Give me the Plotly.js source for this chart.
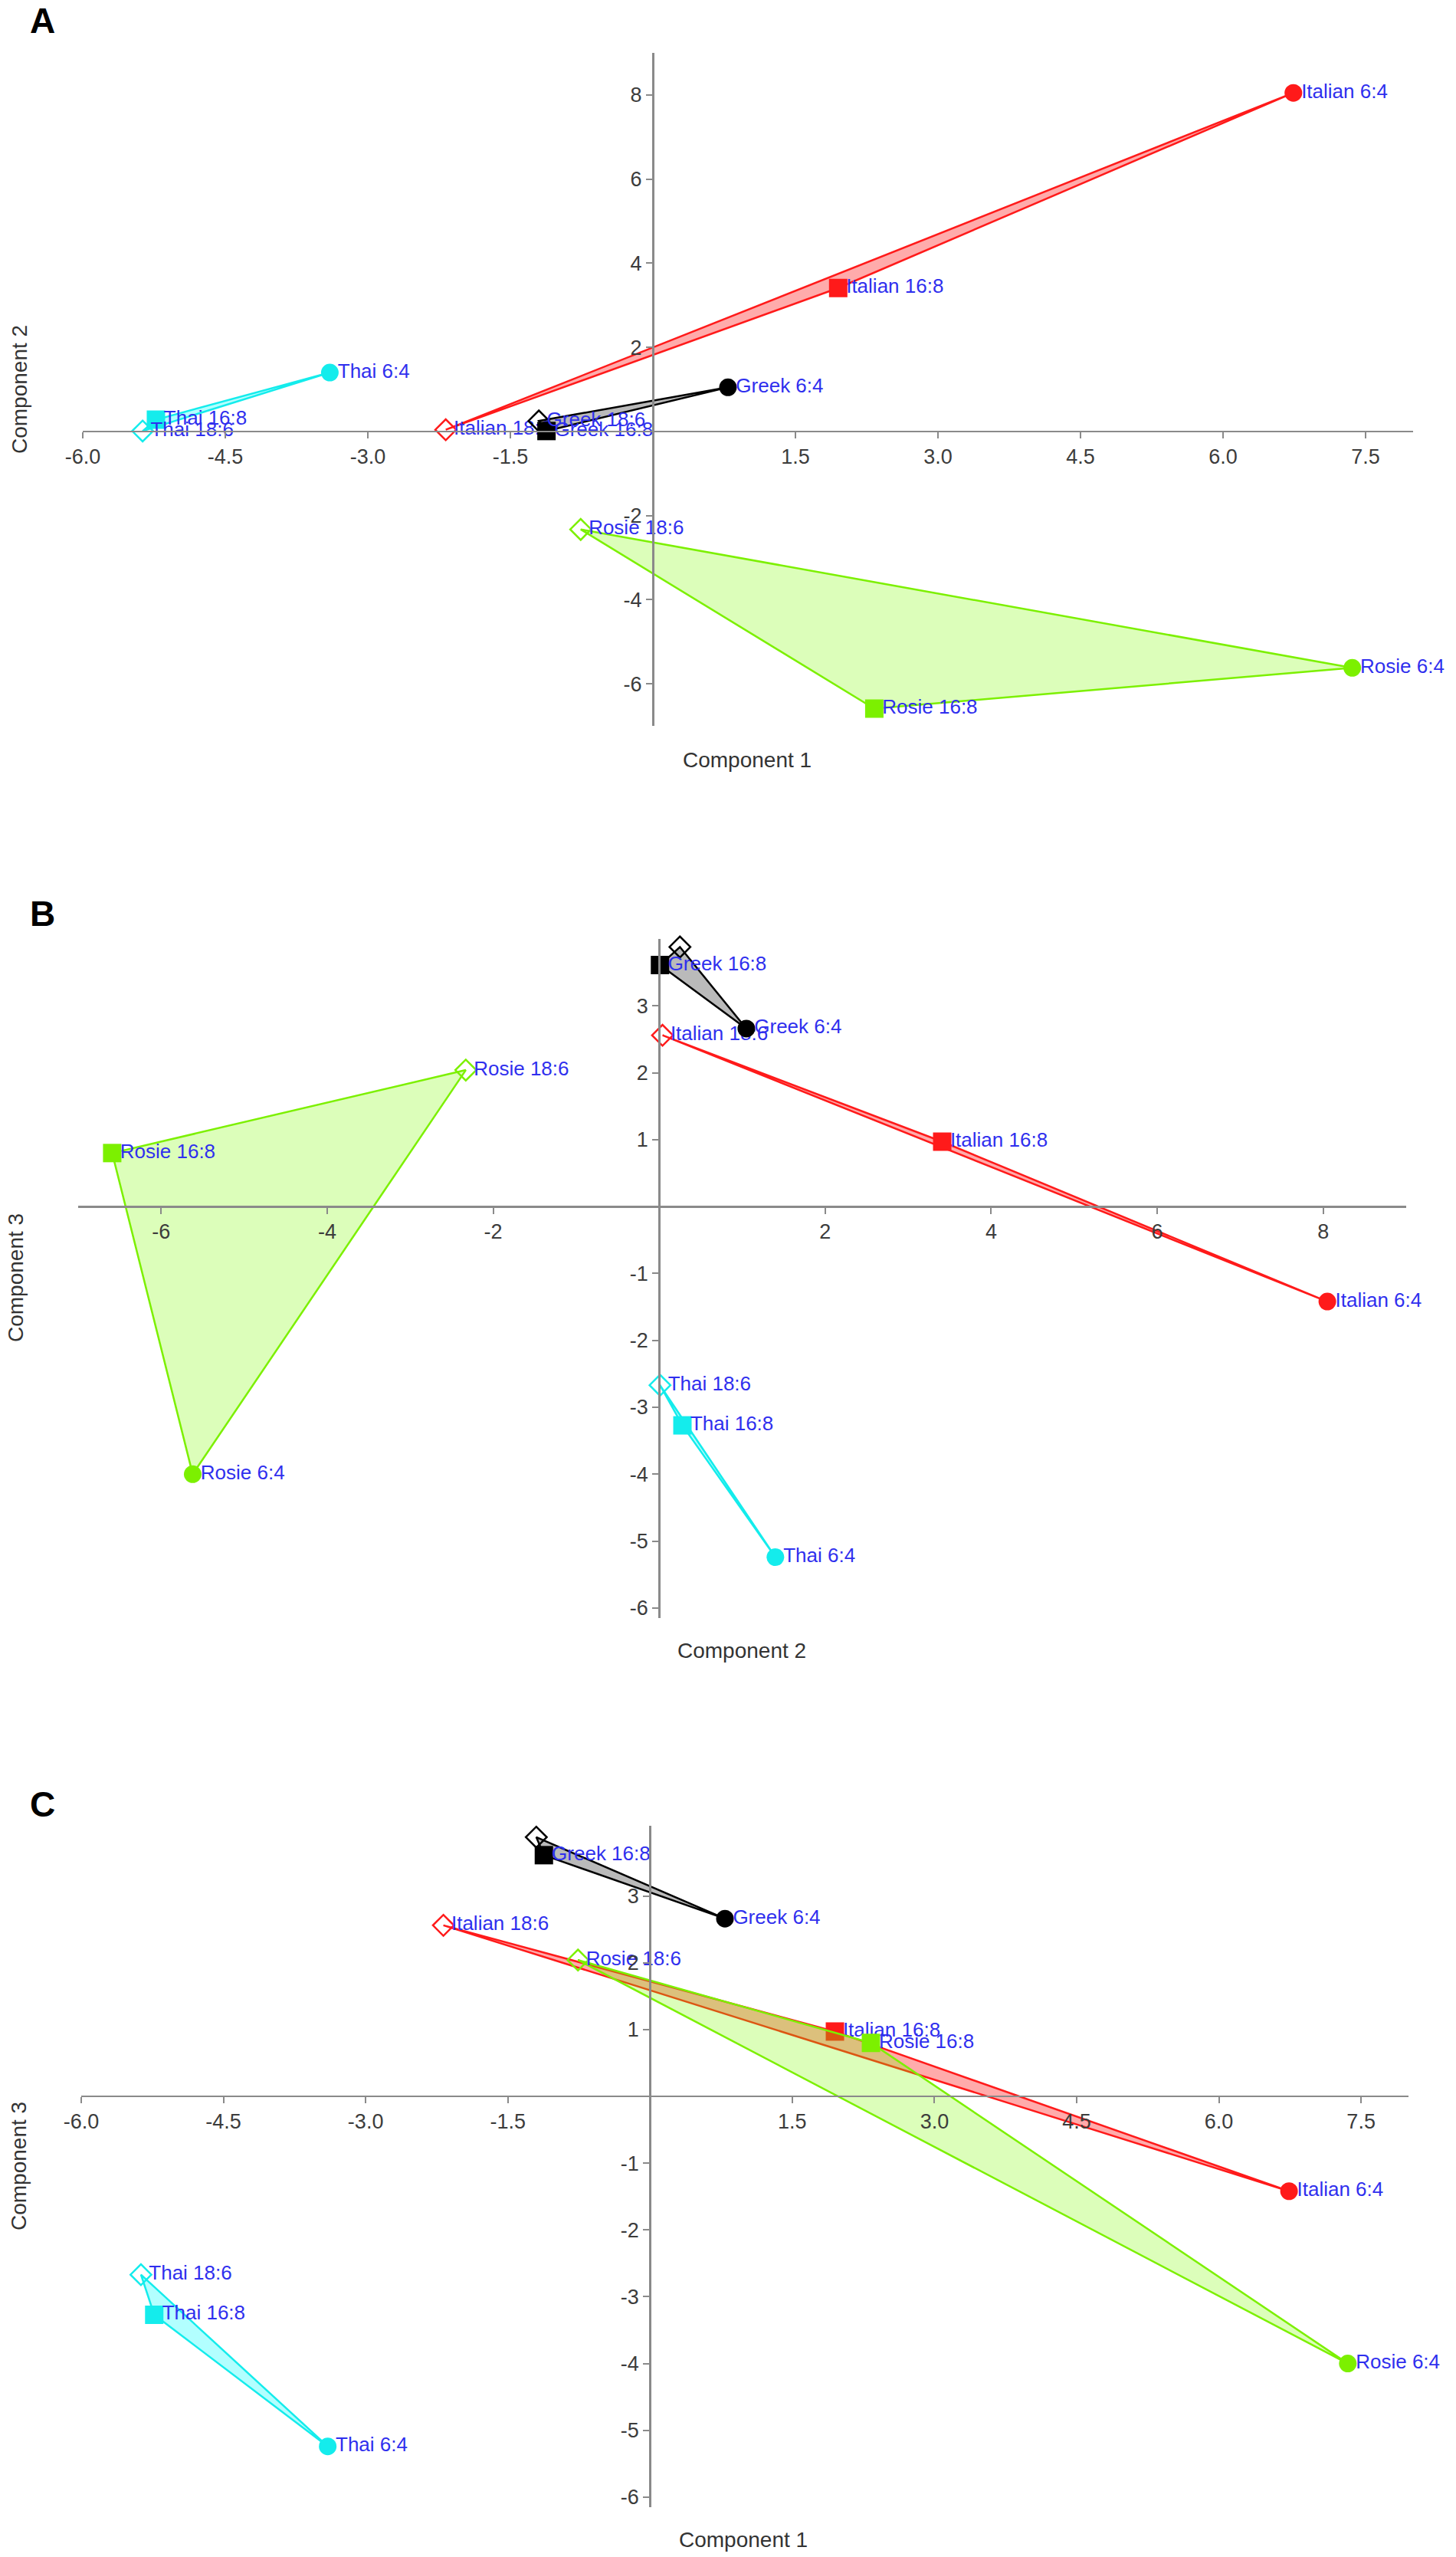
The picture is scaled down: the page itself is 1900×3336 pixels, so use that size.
<!DOCTYPE html>
<html>
<head>
<meta charset="utf-8">
<script src="https://cdn.plot.ly/plotly-3.0.1.min.js"></script>
<style>
  html, body { margin: 0; padding: 0; background: #ffffff; }
  #chart { width: 1900px; height: 3336px; }
</style>
</head>
<body>
<div id="chart"></div>
<script>
// ---------------- DATA ----------------
const groups = ["Italian", "Greek", "Rosie", "Thai"];
const photoperiods = ["6:4", "16:8", "18:6"];

// component scores, order: 6:4, 16:8, 18:6 for each group
const italianC1 = [6.74, 1.95, -2.18];
const italianC2 = [8.05, 3.41, 0.04];
const italianC3 = [-1.42, 0.97, 2.56];

const greekC1 = [0.79, -1.12, -1.20];
const greekC2 = [1.05, 0.01, 0.25];
const greekC3 = [2.66, 3.61, 3.88];

const rosieC1 = [7.36, 2.33, -0.76];
const rosieC2 = [-5.62, -6.59, -2.33];
const rosieC3 = [-4.00, 0.80, 2.04];

const thaiC1 = [-3.40, -5.23, -5.37];
const thaiC2 = [1.40, 0.28, 0.01];
const thaiC3 = [-5.24, -3.27, -2.67];

// tick values / labels
const comp1TickVals = [-6, -4.5, -3, -1.5, 1.5, 3, 4.5, 6, 7.5];
const comp1TickText = ["-6.0", "-4.5", "-3.0", "-1.5", "1.5", "3.0", "4.5", "6.0", "7.5"];
const comp2TickValsA = [-6, -4, -2, 2, 4, 6, 8];
const comp2TickValsB = [-6, -4, -2, 2, 4, 6, 8];
const comp3TickVals = [-6, -5, -4, -3, -2, -1, 1, 2, 3];

// labels hidden in the original (overlapping) for panels B and C
const hiddenLabels = { A: [], B: ["Greek 18:6"], C: ["Greek 18:6"] };

// ---------------- STYLE ----------------
const W = 1900, H = 3336;
const FONT = "Liberation Sans, Arial, Helvetica, sans-serif";
const groupStyle = {
  Italian: { line: "#ff1a1a", fill: "rgba(255,0,0,0.33)" },
  Greek:   { line: "#000000", fill: "rgba(0,0,0,0.27)" },
  Rosie:   { line: "#7cf000", fill: "rgba(124,252,0,0.27)" },
  Thai:    { line: "#14ecec", fill: "rgba(0,255,255,0.30)" }
};
const symbols = ["circle", "square", "diamond-open"];
const symSizes = [23, 24, 21];
const symLineW = [0, 0, 2.5];
const labelColor = "#2f2fee";
const axisColor = "#8a8a8a";
const tickFontColor = "#3c3c3c";

const data = {
  Italian: [italianC1, italianC2, italianC3],
  Greek:   [greekC1, greekC2, greekC3],
  Rosie:   [rosieC1, rosieC2, rosieC3],
  Thai:    [thaiC1, thaiC2, thaiC3]
};

// panels: which components on x / y
const panels = [
  { letter: "A", xc: 0, yc: 1,
    xd: [108 / W, 1844 / W], xr: [-6, 8],
    yd: [1 - 947 / H, 1 - 69 / H], yr: [-7, 9],
    xtv: comp1TickVals, xtt: comp1TickText, ytv: comp2TickValsA, ytt: comp2TickValsA.map(String),
    xTitle: "Component 1", yTitle: "Component 2",
    xTitlePos: [975, 992], yTitlePos: [26, 508], letterPos: [55, 27] },
  { letter: "B", xc: 1, yc: 2,
    xd: [102 / W, 1835 / W], xr: [-7, 9],
    yd: [1 - 2111 / H, 1 - 1225 / H], yr: [-6.15, 4],
    xtv: comp2TickValsB, xtt: comp2TickValsB.map(String), ytv: comp3TickVals, ytt: comp3TickVals.map(String),
    xTitle: "Component 2", yTitle: "Component 3",
    xTitlePos: [968, 2153], yTitlePos: [20, 1667], letterPos: [55, 1192] },
  { letter: "C", xc: 0, yc: 2,
    xd: [106 / W, 1838 / W], xr: [-6, 8],
    yd: [1 - 3271 / H, 1 - 2382 / H], yr: [-6.15, 4.05],
    xtv: comp1TickVals, xtt: comp1TickText, ytv: comp3TickVals, ytt: comp3TickVals.map(String),
    xTitle: "Component 1", yTitle: "Component 3",
    xTitlePos: [970, 3313], yTitlePos: [24, 2826], letterPos: [55, 2354] }
];

function zeroFrac(d, r) { return d[0] + (0 - r[0]) / (r[1] - r[0]) * (d[1] - d[0]); }

const traces = [];
const layout = {
  width: W, height: H,
  margin: { l: 0, r: 0, t: 0, b: 0, pad: 0 },
  paper_bgcolor: "#ffffff", plot_bgcolor: "rgba(0,0,0,0)",
  showlegend: false,
  font: { family: FONT, color: tickFontColor },
  annotations: []
};

panels.forEach((p, i) => {
  const xa = i === 0 ? "x" : "x" + (i + 1);
  const ya = i === 0 ? "y" : "y" + (i + 1);
  const xKey = i === 0 ? "xaxis" : "xaxis" + (i + 1);
  const yKey = i === 0 ? "yaxis" : "yaxis" + (i + 1);

  const axisCommon = {
    showgrid: false, zeroline: false, showline: true,
    linecolor: axisColor, linewidth: 2.5,
    ticks: "outside", ticklen: 8, tickwidth: 2, tickcolor: axisColor,
    tickfont: { family: FONT, size: 27, color: tickFontColor },
    tickmode: "array", fixedrange: true
  };
  layout[xKey] = Object.assign({}, axisCommon, {
    domain: p.xd, range: p.xr, anchor: "free",
    position: zeroFrac(p.yd, p.yr),
    tickvals: p.xtv, ticktext: p.xtt
  });
  layout[yKey] = Object.assign({}, axisCommon, {
    domain: p.yd, range: p.yr, anchor: "free",
    position: zeroFrac(p.xd, p.xr),
    tickvals: p.ytv, ticktext: p.ytt
  });

  groups.forEach(g => {
    const xs = data[g][p.xc];
    const ys = data[g][p.yc];
    const st = groupStyle[g];
    // filled polygon
    traces.push({
      type: "scatter", mode: "lines", xaxis: xa, yaxis: ya,
      x: xs.concat([xs[0]]), y: ys.concat([ys[0]]),
      fill: "toself", fillcolor: st.fill,
      line: { color: st.line, width: 2.5 },
      hoverinfo: "skip"
    });
    // markers
    traces.push({
      type: "scatter", mode: "markers", xaxis: xa, yaxis: ya,
      x: xs, y: ys, cliponaxis: false,
      marker: { symbol: symbols, size: symSizes, color: st.line, opacity: 1,
                line: { color: st.line, width: symLineW } },
      hoverinfo: "skip"
    });
    // labels
    const names = photoperiods.map(pp => g + " " + pp);
    traces.push({
      type: "scatter", mode: "markers+text", xaxis: xa, yaxis: ya,
      x: xs, y: ys, cliponaxis: false,
      text: names.map(n => hiddenLabels[p.letter].indexOf(n) >= 0 ? "" : n),
      textposition: "middle right",
      textfont: { family: FONT, size: 26, color: labelColor },
      marker: { size: 15, color: "rgba(0,0,0,0)", opacity: 1 },
      hoverinfo: "skip"
    });
  });

  // axis titles
  layout.annotations.push({
    xref: "paper", yref: "paper",
    x: p.xTitlePos[0] / W, y: 1 - p.xTitlePos[1] / H,
    xanchor: "center", yanchor: "middle", showarrow: false,
    text: p.xTitle, font: { family: FONT, size: 28, color: "#333333" }
  });
  layout.annotations.push({
    xref: "paper", yref: "paper",
    x: p.yTitlePos[0] / W, y: 1 - p.yTitlePos[1] / H,
    xanchor: "center", yanchor: "middle", showarrow: false, textangle: -90,
    text: p.yTitle, font: { family: FONT, size: 28, color: "#333333" }
  });
  // panel letter
  layout.annotations.push({
    xref: "paper", yref: "paper",
    x: p.letterPos[0] / W, y: 1 - p.letterPos[1] / H,
    xanchor: "center", yanchor: "middle", showarrow: false,
    text: "<b>" + p.letter + "</b>", font: { family: FONT, size: 46, color: "#000000" }
  });
});

Plotly.newPlot("chart", traces, layout, { staticPlot: true, displayModeBar: false });
</script>
</body>
</html>
